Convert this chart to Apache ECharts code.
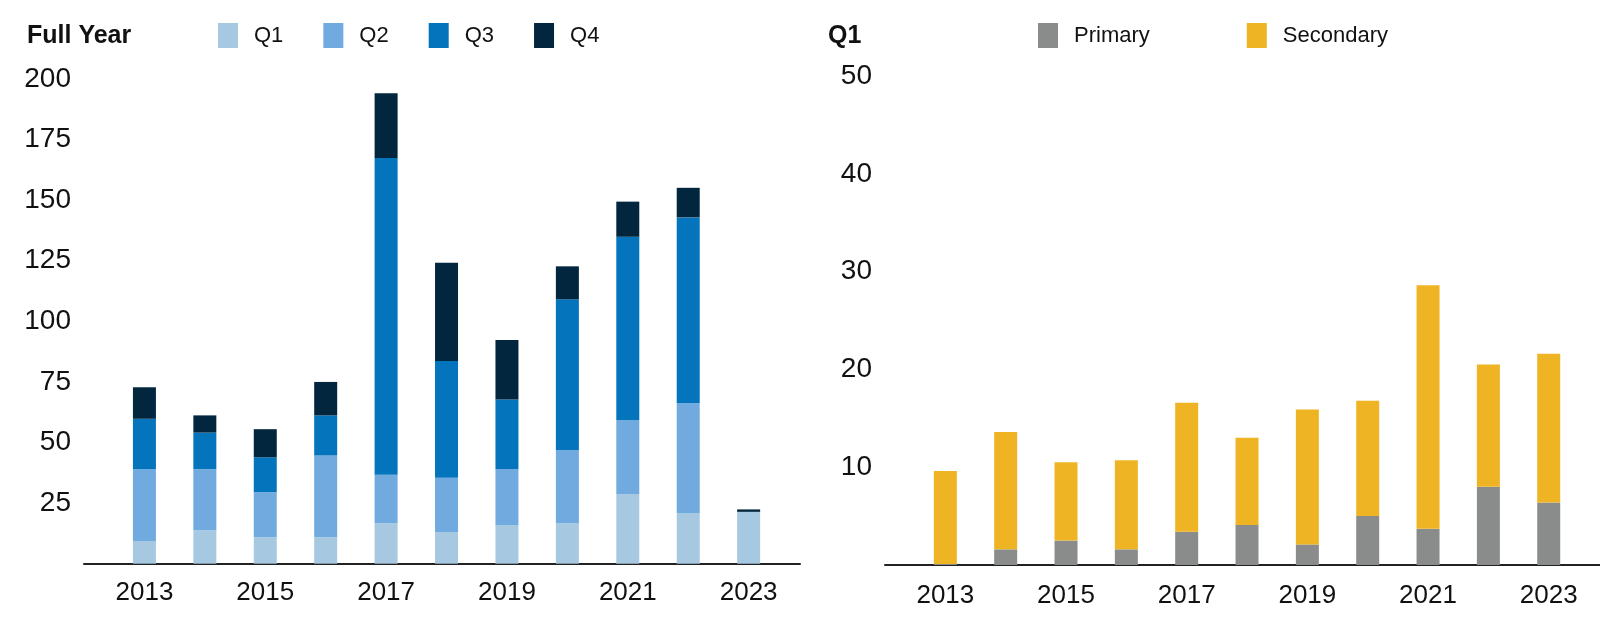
<!DOCTYPE html>
<html>
<head>
<meta charset="utf-8">
<script src="https://cdn.jsdelivr.net/npm/echarts@6/dist/echarts.min.js"></script>
<style>
  html, body { margin: 0; padding: 0; background: #fff; }
  #chart { width: 1600px; height: 624px; }
</style>
</head>
<body>
<div id="chart"></div>
<script>
// ---- data ----
const years = [2013, 2014, 2015, 2016, 2017, 2018, 2019, 2020, 2021, 2022, 2023];
// Full Year (stacked by quarter)
const q1 = [9.4, 13.8, 10.9, 10.9, 16.7, 13.1, 16.0, 16.7, 28.8, 20.9, 21.4];
const q2 = [29.6, 25.2, 18.6, 33.8, 20.0, 22.4, 23.1, 30.2, 30.4, 45.4, 0];
const q3 = [20.8, 15.1, 14.4, 16.5, 130.7, 48.1, 28.7, 62.2, 75.7, 76.6, 0];
const q4 = [13.0, 7.1, 11.6, 13.8, 26.7, 40.6, 24.5, 13.6, 14.5, 12.2, 1.0];
// Q1 (primary / secondary)
const primary = [0.1, 1.6, 2.5, 1.6, 3.4, 4.1, 2.1, 5.0, 3.7, 8.0, 6.4];
const secondary = [9.5, 12.0, 8.0, 9.1, 13.2, 8.9, 13.8, 11.8, 24.9, 12.5, 15.2];
const leftTicks = [25, 50, 75, 100, 125, 150, 175, 200];
const rightTicks = [10, 20, 30, 40, 50];

// value first, year second (so the value dimension is the stacked one)
const pair = arr => years.map((y, i) => [arr[i], y]);

const FONT = "'Liberation Sans', Arial, sans-serif";

function xAxisCfg(gridIndex, margin) {
  return {
    type: 'value', gridIndex: gridIndex, min: 2012, max: 2023.85, interval: 1,
    axisLine: { show: true, lineStyle: { color: '#222', width: 2 } },
    axisTick: { show: false }, splitLine: { show: false },
    axisLabel: {
      show: true, margin: margin, fontSize: 26, color: '#111', fontFamily: FONT,
      showMinLabel: false, showMaxLabel: false,
      formatter: v => (Math.round(v) % 2 === 1 && years.indexOf(Math.round(v)) >= 0) ? String(Math.round(v)) : ''
    }
  };
}
function yAxisCfg(gridIndex, max, interval, ticks) {
  return {
    type: 'value', gridIndex: gridIndex, min: 0, max: max, interval: interval,
    axisLine: { show: false }, axisTick: { show: false }, splitLine: { show: false },
    axisLabel: {
      margin: 13, fontSize: 28, color: '#111', fontFamily: FONT,
      showMinLabel: false,
      formatter: v => ticks.indexOf(v) >= 0 ? String(v) : ''
    }
  };
}
function bar(name, arr, color, xi, stack) {
  return {
    name: name, type: 'bar', xAxisIndex: xi, yAxisIndex: xi, stack: stack,
    encode: { x: 1, y: 0 },
    barWidth: 23, data: pair(arr), itemStyle: { color: color },
    emphasis: { disabled: true }
  };
}

const chart = echarts.init(document.getElementById('chart'), null, { renderer: 'canvas' });
chart.setOption({
  animation: false,
  backgroundColor: '#fff',
  title: [
    { text: 'Full Year', left: 27, top: 24, padding: 0,
      textStyle: { fontSize: 25, fontWeight: 'bold', color: '#111', fontFamily: FONT } },
    { text: 'Q1', left: 828, top: 24, padding: 0,
      textStyle: { fontSize: 25, fontWeight: 'bold', color: '#111', fontFamily: FONT } }
  ],
  legend: [
    { left: 213, top: 18, itemWidth: 20, itemHeight: 25, itemGap: 40, icon: 'rect',
      selectedMode: false, data: ['Q1', 'Q2', 'Q3', 'Q4'],
      textStyle: { fontSize: 22, color: '#111', fontFamily: FONT, width: 40, padding: [0, 0, 0, 11] } },
    { left: 1033, top: 18, itemWidth: 20, itemHeight: 25, itemGap: 97, icon: 'rect',
      selectedMode: false, data: ['Primary', 'Secondary'],
      textStyle: { fontSize: 22, color: '#111', fontFamily: FONT, width: 80, padding: [0, 0, 0, 11] } }
  ],
  grid: [
    { left: 84, width: 716, top: 79, height: 484.7 },
    { left: 885, width: 715, top: 76, height: 489 }
  ],
  xAxis: [xAxisCfg(0, 16), xAxisCfg(1, 18)],
  yAxis: [yAxisCfg(0, 200, 25, leftTicks), yAxisCfg(1, 50, 10, rightTicks)],
  series: [
    bar('Q1', q1, '#a6c8e0', 0, 'fy'),
    bar('Q2', q2, '#70aade', 0, 'fy'),
    bar('Q3', q3, '#0474bc', 0, 'fy'),
    bar('Q4', q4, '#02263e', 0, 'fy'),
    bar('Primary', primary, '#8a8c8c', 1, 'q1'),
    bar('Secondary', secondary, '#efb423', 1, 'q1')
  ]
});
</script>
</body>
</html>
